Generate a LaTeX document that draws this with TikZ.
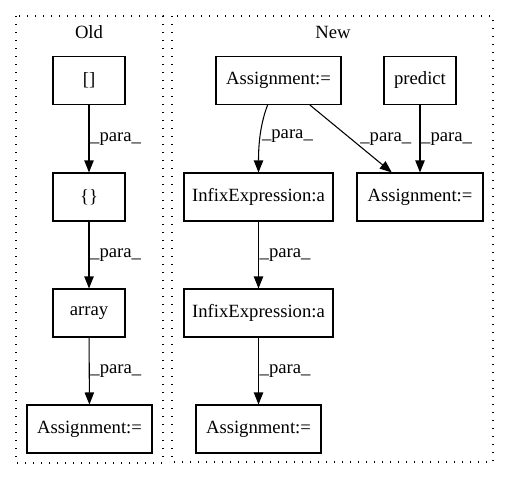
\documentclass[tikz,border=0pt]{standalone}
\usepackage{fontspec}
\setmainfont{Liberation Serif}
\usetikzlibrary{arrows.meta}
\tikzset{
  box/.style={draw, line width=0.8pt, inner sep=0pt, minimum height=36pt, font=\fontsize{14}{17}\selectfont},
  lbl/.style={inner sep=0pt, font=\fontsize{14}{17}\selectfont},
  edge/.style={line width=0.8pt, -{Triangle[length=9pt,width=7pt]}},
  cluster/.style={line width=0.8pt, dash pattern=on 1pt off 5pt},
}
\begin{document}
\begin{tikzpicture}[x=0.75pt,y=-0.75pt]
\useasboundingbox (0,0) rectangle (509,480);
% clusters
\draw[cluster] (16,16) rectangle (163,463);
\draw[cluster] (172,16) rectangle (493,462);
\node[lbl] (oldt) at (89,32) {Old};
\node[lbl] (newt) at (333,32) {New};
% Old nodes
\node[box, minimum width=54pt] (br) at (89,80.5) {[]};
\node[box, minimum width=54pt] (cb) at (89,197) {\{\}};
\node[box, minimum width=54pt] (arr) at (89,313) {array};
\node[box, minimum width=93.75pt] (oa) at (89.5,429) {Assignment:=};
% New nodes
\node[box, minimum width=93.75pt] (at) at (278.5,80.5) {Assignment:=};
\node[box, minimum width=54pt] (pr) at (420,80.5) {predict};
\node[box, minimum width=111.75pt] (ie1) at (258.5,197) {InfixExpression:a};
\node[box, minimum width=94.5pt] (ar) at (420,197) {Assignment:=};
\node[box, minimum width=111.75pt] (ie2) at (258.5,313) {InfixExpression:a};
\node[box, minimum width=93.75pt] (ab) at (258.5,429) {Assignment:=};
% Old edges
\draw[edge] (br) -- node[lbl, anchor=west, xshift=0.5pt] {\_para\_} (cb);
\draw[edge] (cb) -- node[lbl, anchor=west, xshift=0.5pt] {\_para\_} (arr);
\draw[edge] (arr) -- node[lbl, anchor=west, xshift=0.5pt] {\_para\_} (oa);
% New edges
\draw[edge] (at.-114) .. controls (260,125) and (258.5,145) .. node[lbl, anchor=west, pos=0.5, xshift=1pt] {\_para\_} (ie1.north);
\draw[edge] (at.-38.5) -- node[lbl, anchor=west, pos=0.5, xshift=6.75pt] {\_para\_} (ar.139.4);
\draw[edge] (pr) -- node[lbl, anchor=west, xshift=0.5pt] {\_para\_} (ar);
\draw[edge] (ie1) -- node[lbl, anchor=west, xshift=0.5pt] {\_para\_} (ie2);
\draw[edge] (ie2) -- node[lbl, anchor=west, xshift=0.5pt] {\_para\_} (ab);
\end{tikzpicture}
\end{document}
